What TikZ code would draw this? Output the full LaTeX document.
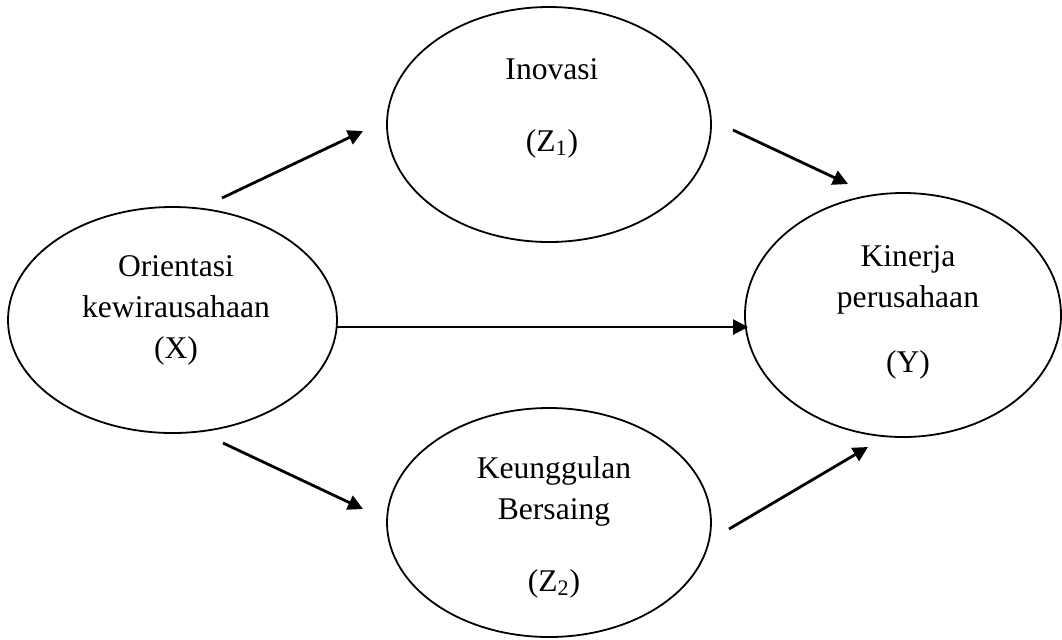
\documentclass[tikz,border=0pt]{standalone}
\usepackage{fontspec}
\setmainfont{Liberation Serif}
\usetikzlibrary{shapes.geometric, arrows.meta, positioning}

\begin{document}
\begin{tikzpicture}[
    x=0.5pt, y=-0.5pt,
    var/.style={draw, ellipse, line width=0.9pt, inner sep=0pt},
    txt/.style={align=center, inner sep=0pt, font=\fontsize{15.8}{20.5}\selectfont},
    edge/.style={-{Triangle[length=7.5pt,width=7.5pt]}, line width=1.4pt}
]
    \fill[white] (0,0) rectangle (1062,639);
    \useasboundingbox (0,0) rectangle (1062,639);

    % variables
    \node[var, minimum width=164.5pt, minimum height=113pt] (X) at (172.5,320) {};
    \node[var, minimum width=162pt, minimum height=117.5pt] (Z1) at (549,124.5) {};
    \node[var, minimum width=158pt, minimum height=122pt] (Y) at (903,315) {};
    \node[var, minimum width=162pt, minimum height=114.5pt] (Z2) at (549,522.5) {};

    \node[txt] (xt) at (176,310.5) {Orientasi\\kewirausahaan\\(X)};
    \node[txt] (z1t) at (552,108) {Inovasi\\[15.5pt](Z\textsubscript{1})};
    \node[txt] (yt) at (908,312) {Kinerja\\perusahaan\\[12pt](Y)};
    \node[txt] (z2t) at (554,527) {Keunggulan\\Bersaing\\[15.5pt](Z\textsubscript{2})};

    % arrow ends
    \coordinate (xz1a) at (222,198);
    \coordinate (xz1b) at (363,131);
    \coordinate (z1ya) at (733,130);
    \coordinate (z1yb) at (848,184);
    \coordinate (xya) at (337,327);
    \coordinate (xyb) at (748,327);
    \coordinate (xz2a) at (223,443);
    \coordinate (xz2b) at (363,509);
    \coordinate (z2ya) at (729,529);
    \coordinate (z2yb) at (868,447);

    \draw[edge] (xz1a) -- (xz1b);
    \draw[edge] (z1ya) -- (z1yb);
    \draw[edge] (xya) -- (xyb);
    \draw[edge] (xz2a) -- (xz2b);
    \draw[edge] (z2ya) -- (z2yb);

\end{tikzpicture}
\end{document}
